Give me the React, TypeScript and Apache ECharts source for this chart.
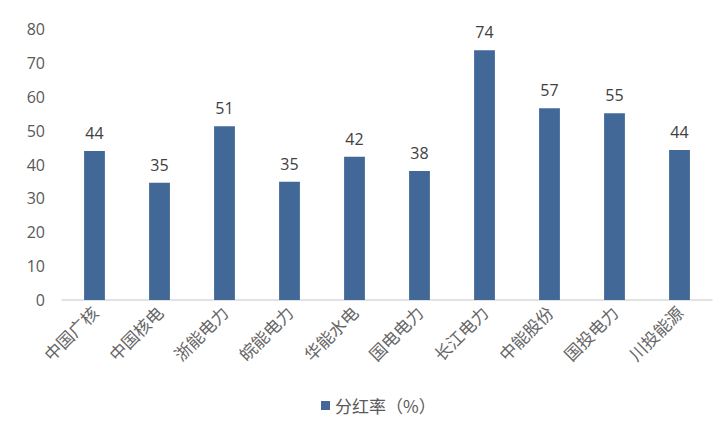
import React, { useEffect, useRef } from "react";
import * as echarts from "echarts";

const categories = ["中国广核", "中国核电", "浙能电力", "皖能电力", "华能水电", "国电电力", "长江电力", "中能股份", "国投电力", "川投能源"];
const payoutRatio = [44.0, 34.6, 51.3, 34.9, 42.3, 38.1, 73.7, 56.6, 55.1, 44.3];
const seriesName = "分红率（%）";

export default function App() {
  const ref = useRef<HTMLDivElement>(null);
  useEffect(() => {
    const chart = echarts.init(ref.current!, null, { renderer: "svg" });
    const font = "'Noto Sans CJK SC', sans-serif";
    const numFont = "'Open Sans', 'Noto Sans', sans-serif";
    chart.setOption({
      animation: false,
      textStyle: { fontFamily: font },
      grid: { left: 62, right: 12, top: 29, bottom: 130 },
      legend: {
        bottom: 11,
        left: 316,
        itemWidth: 9,
        itemHeight: 9,
        icon: "rect",
        itemGap: 6,
        textStyle: { color: "#595959", fontSize: 17, fontFamily: font },
        data: [seriesName],
      },
      xAxis: {
        type: "category",
        data: categories,
        axisLine: { lineStyle: { color: "#d9d9d9", width: 1.5 } },
        axisTick: { show: false },
        axisLabel: { rotate: 45, color: "#666666", fontSize: 17, margin: 9, interval: 0, fontFamily: font },
      },
      yAxis: {
        type: "value",
        min: 0,
        max: 80,
        interval: 10,
        axisLine: { show: false },
        axisTick: { show: false },
        splitLine: { show: false },
        axisLabel: { color: "#595959", fontSize: 16, margin: 17, fontFamily: numFont },
      },
      series: [
        {
          name: seriesName,
          type: "bar",
          data: payoutRatio,
          barWidth: "32%",
          itemStyle: { color: "#416897" },
          label: {
            show: true,
            position: "top",
            distance: 10,
            color: "#404040",
            fontSize: 16,
            fontFamily: numFont,
            formatter: (p: any) => Math.round(p.value).toString(),
          },
        },
      ],
    });
    return () => chart.dispose();
  }, []);
  return <div ref={ref} style={{ width: 724, height: 430, margin: -8 }} />;
}
